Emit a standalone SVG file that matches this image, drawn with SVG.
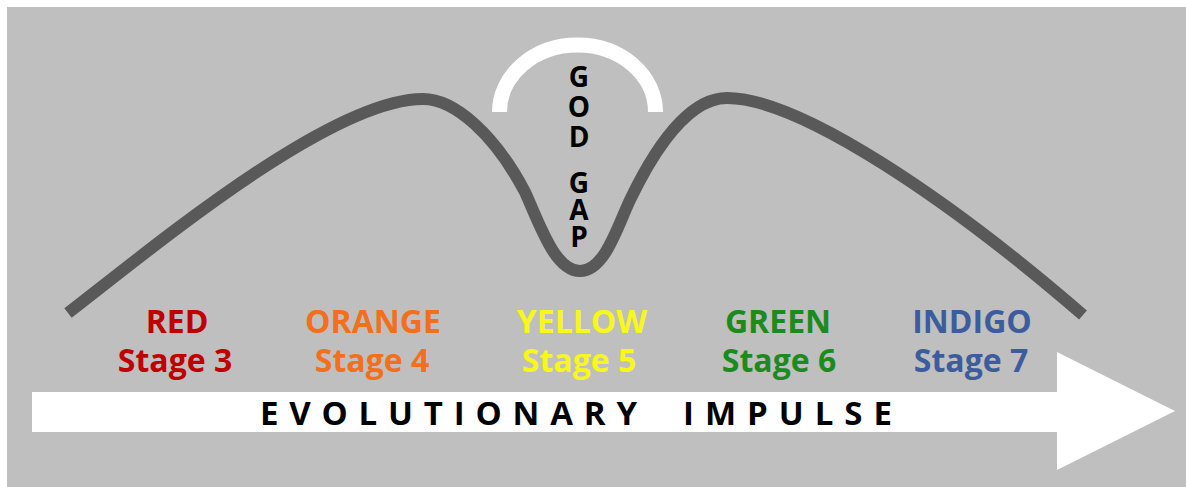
<svg xmlns="http://www.w3.org/2000/svg" width="1186" height="487" viewBox="0 0 1186 487">
<style>
.lbl{font-family:"Open Sans","Liberation Sans",sans-serif;font-weight:700;font-size:32px;text-anchor:middle}
.god{font-family:"Open Sans","Liberation Sans",sans-serif;font-weight:700;font-size:28px;text-anchor:middle;fill:#000}
.evo{font-family:"Open Sans","Liberation Sans",sans-serif;font-weight:700;font-size:33px;fill:#000}
</style>
<rect x="0" y="0" width="1186" height="487" fill="#ffffff"/>
<rect x="7" y="7" width="1179" height="480" fill="#bfbfbf"/>
<g id="arrow">
<polygon points="32,392 1057,392 1057,352 1175,411 1057,470 1057,432 32,432" fill="#ffffff"/>
<text class="evo" x="260" y="425" textLength="377" lengthAdjust="spacing">EVOLUTIONARY</text>
<text class="evo" x="683" y="425" textLength="209" lengthAdjust="spacing">IMPULSE</text>
</g>
<g id="curve">
<path d="M68,313 C150,250 330,99 423,99 C455,99 495,135 525,192 C540,225 555,271 580,271 C605,271 618,225 630,200 C642,175 680,98 727,98 C800,98 950,200 1083,315" fill="none" stroke="#595959" stroke-width="12"/>
</g>
<g id="god-gap">
<path d="M499.5,112 A78,67 0 0 1 655.5,112" fill="none" stroke="#ffffff" stroke-width="15"/>
<text class="god"><tspan x="579" y="87">G</tspan><tspan x="579" y="117">O</tspan><tspan x="579" y="147">D</tspan><tspan x="579" y="193">G</tspan><tspan x="579" y="220">A</tspan><tspan x="579" y="247">P</tspan></text>
</g>
<g id="stage-red">
<text class="lbl" x="177" y="333" fill="#c00000">RED</text>
<text class="lbl" x="175" y="372" fill="#c00000">Stage 3</text>
</g>
<g id="stage-orange">
<text class="lbl" x="373" y="333" fill="#f36f1c">ORANGE</text>
<text class="lbl" x="372" y="372" fill="#f36f1c">Stage 4</text>
</g>
<g id="stage-yellow">
<text class="lbl" x="582" y="333" fill="#f7f71a">YELLOW</text>
<text class="lbl" x="579" y="372" fill="#f7f71a">Stage 5</text>
</g>
<g id="stage-green">
<text class="lbl" x="778" y="333" fill="#1c8a1c">GREEN</text>
<text class="lbl" x="779" y="372" fill="#1c8a1c">Stage 6</text>
</g>
<g id="stage-indigo">
<text class="lbl" x="972" y="333" fill="#3d5c9e">INDIGO</text>
<text class="lbl" x="971" y="372" fill="#3d5c9e">Stage 7</text>
</g>
</svg>
